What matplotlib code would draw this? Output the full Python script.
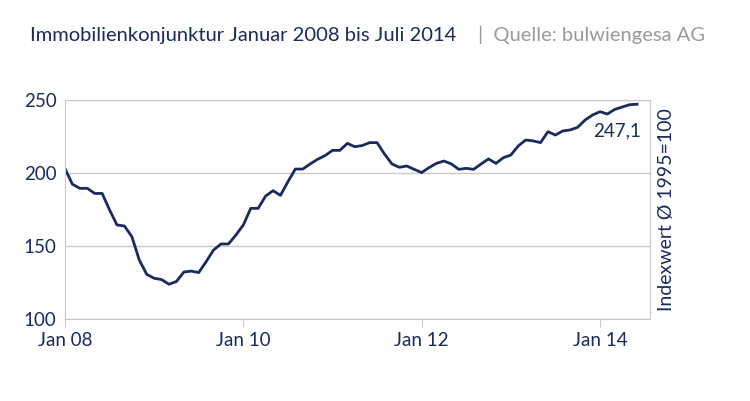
import numpy as np
import matplotlib.pyplot as plt

plt.rcParams['font.family'] = ['Lato', 'DejaVu Sans']

# monthly index values, Jan 2008 onwards
werte = [203, 192.3, 189.5, 189.5, 186, 186, 174.7, 164.4, 163.7, 156.4,
         140.4, 130.6, 127.9, 127, 123.8, 125.7, 132.2, 132.8, 131.8, 139.3,
         147.3, 151.4, 151.4, 157.5, 164.4, 175.8, 175.8, 184.2, 187.9, 184.7,
         194, 202.7, 202.7, 206.2, 209.4, 211.9, 215.5, 215.5, 220.3, 218,
         218.8, 220.8, 220.8, 213, 206.2, 203.9, 204.8, 202.5, 200.3, 203.7,
         206.6, 208.2, 206.2, 202.5, 203.2, 202.5, 206.2, 209.6, 206.6, 210.5,
         212.3, 218.5, 222.6, 222, 220.8, 228.3, 226, 228.8, 229.5, 231.3,
         236.3, 239.7, 242, 240.4, 243.6, 245.2, 246.8, 247.1]
tick_pos = [0, 24, 48, 72]
tick_labels = ["Jan 08", "Jan 10", "Jan 12", "Jan 14"]
y_ticks = [100, 150, 200, 250]

navy = "#1b2a5c"
grau = "#c8c8c8"

fig = plt.figure(figsize=(7.5, 4.01), dpi=100)
ax = fig.add_axes([65/750, 1-319/401, 585/750, 219/401])
x = np.arange(len(werte))
ax.plot(x, werte, color=navy, lw=2)
ax.set_xlim(0, 585/7.43)
ax.set_ylim(100, 250)
ax.set_yticks(y_ticks)
ax.set_xticks(tick_pos)
ax.set_xticklabels(tick_labels)
ax.grid(axis="y", color=grau, lw=1)
for s in ["left", "bottom", "right", "top"]:
    ax.spines[s].set_color(grau)
ax.tick_params(colors=grau, labelcolor=navy, labelsize=13.5, length=6)
ax.tick_params(axis="y", length=0, pad=6)
ax.yaxis.set_label_position("right")
ax.set_ylabel("Indexwert Ø 1995=100", color=navy, fontsize=14, labelpad=6)
ax.text(len(werte)-0.5, 229, "247,1", color=navy, fontsize=13.5, ha="right", va="center")

fig.text(30/750, 1-35/401, "Immobilienkonjunktur Januar 2008 bis Juli 2014", color=navy,
         fontsize=14.5, va="center")
fig.text(478/750, 1-35/401, "|  Quelle: bulwiengesa AG", color="#9a9a9a",
         fontsize=14.5, va="center")

fig.savefig("out.png", dpi=100)
